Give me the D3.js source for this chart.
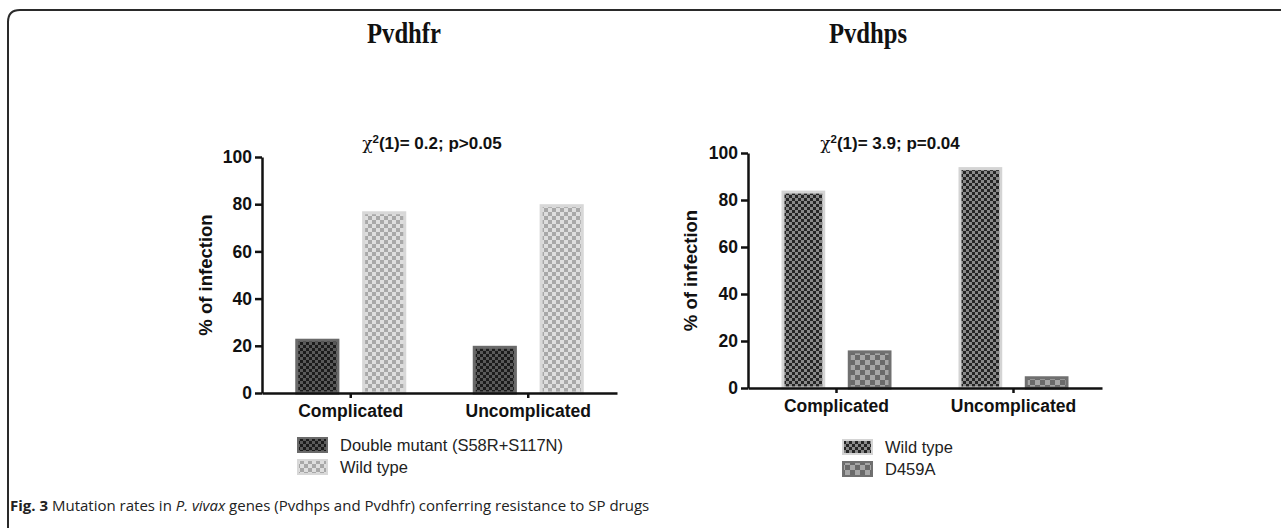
<!DOCTYPE html>
<html><head><meta charset="utf-8">
<script src="https://cdn.jsdelivr.net/npm/d3@7"></script>
<style>
html,body{margin:0;padding:0;background:#fff;}
svg{display:block;}
</style></head>
<body>
<svg id="chart" width="1281" height="528"></svg>
<script>
// ---- data ----
const categories = ["Complicated", "Uncomplicated"];
const yTicks = [0, 20, 40, 60, 80, 100];

const dhfrSeries = ["Double mutant (S58R+S117N)", "Wild type"];
const dhfrDouble = [23, 20];
const dhfrWild = [77, 80];

const dhpsSeries = ["Wild type", "D459A"];
const dhpsWild = [84, 94];
const dhpsD459A = [16, 5];

const panelTitles = ["Pvdhfr", "Pvdhps"];
const statLabels = [["0.2", "p>0.05"], ["3.9", "p=0.04"]];
const yLabel = "% of infection";

const svg = d3.select("#chart");
const defs = svg.append("defs");

function checker(id, cell, c1, c2) {
  const p = defs.append("pattern").attr("id", id).attr("patternUnits", "userSpaceOnUse")
    .attr("width", cell * 2).attr("height", cell * 2);
  p.append("rect").attr("width", cell * 2).attr("height", cell * 2).attr("fill", c2);
  p.append("rect").attr("width", cell).attr("height", cell).attr("fill", c1);
  p.append("rect").attr("x", cell).attr("y", cell).attr("width", cell).attr("height", cell).attr("fill", c1);
}
checker("pDark", 3, "#1c1c1c", "#5a5a5a");
checker("pLight", 4, "#a8a8a8", "#dedede");
checker("pWildR", 3, "#252525", "#8a8a8a");
checker("pD459", 5, "#6a6a6a", "#a6a6a6");

// frame
svg.append("path")
  .attr("d", "M8,528 L8,22 Q8,10 20,10 L1281,10")
  .attr("fill", "none").attr("stroke", "#2a2a2a").attr("stroke-width", 2);

const sans = "Liberation Sans, Arial, sans-serif";

function panel(cfg) {
  const g = svg.append("g");
  const x = d3.scaleBand().domain(categories).range([cfg.x0, cfg.x1]).paddingInner(0).paddingOuter(0);
  const y = d3.scaleLinear().domain([0, 100]).range([cfg.yb, cfg.yt]);
  const inner = d3.scaleBand().domain(cfg.series).range([-cfg.gw / 2, cfg.gw / 2]).paddingInner(0.34).paddingOuter(0);

  // title
  g.append("text").attr("x", cfg.tx).attr("y", 43).attr("text-anchor", "middle")
    .attr("font-family", "Liberation Serif, Times New Roman, serif").attr("font-weight", "bold")
    .attr("font-size", 29).attr("transform", `translate(${cfg.tx},0) scale(0.85,1) translate(${-cfg.tx},0)`)
    .attr("fill", "#111").text(cfg.title);

  // stat label
  const st = g.append("text").attr("x", cfg.sx).attr("y", cfg.sy).attr("text-anchor", "middle")
    .attr("font-family", sans).attr("font-weight", "bold").attr("font-size", 17).attr("fill", "#111");
  st.append("tspan").attr("font-family", "DejaVu Serif, serif").attr("font-weight", "normal").text("χ");
  st.append("tspan").attr("font-size", 11.5).attr("dy", -6).text("2");
  st.append("tspan").attr("dy", 6).text(`(1)= ${cfg.stat[0]}; ${cfg.stat[1]}`);

  // bars
  cfg.series.forEach((s, si) => {
    const vals = cfg.values[si];
    g.selectAll(null).data(categories).enter().append("rect")
      .attr("x", c => x(c) + x.bandwidth() / 2 + inner(s) + 1.5)
      .attr("y", (c, i) => y(vals[i]) + 1.5)
      .attr("width", inner.bandwidth() - 3)
      .attr("height", (c, i) => Math.max(0, y(0) - y(vals[i]) - 1.5))
      .attr("fill", `url(#${cfg.fills[si]})`)
      .attr("stroke", cfg.strokes[si]).attr("stroke-width", 3);
  });

  // y axis
  const ya = g.append("g").attr("transform", `translate(${cfg.x0},0)`)
    .call(d3.axisLeft(y).tickValues(yTicks).tickSize(7).tickSizeOuter(0));
  ya.select(".domain").attr("stroke", "#111").attr("stroke-width", 2.5);
  ya.selectAll(".tick line").attr("stroke", "#111").attr("stroke-width", 2.5);
  ya.selectAll(".tick text").attr("font-family", sans).attr("font-weight", "bold")
    .attr("font-size", 17.5).attr("fill", "#111").attr("x", -10);

  // x axis
  const xa = g.append("g").attr("transform", `translate(0,${cfg.yb})`)
    .call(d3.axisBottom(x).tickSize(5).tickSizeOuter(0).tickPadding(7));
  xa.select(".domain").attr("stroke", "#111").attr("stroke-width", 2.5);
  xa.selectAll(".tick line").attr("stroke", "#111").attr("stroke-width", 2.5);
  xa.selectAll(".tick text").attr("font-family", sans).attr("font-weight", "bold")
    .attr("font-size", 17.5).attr("fill", "#111");

  // y label
  g.append("text").attr("transform", `translate(${cfg.ylx},${(cfg.yt + cfg.yb) / 2}) rotate(-90)`)
    .attr("text-anchor", "middle").attr("font-family", sans).attr("font-weight", "bold")
    .attr("font-size", 18.5).attr("fill", "#111").text(yLabel);

  // legend
  cfg.series.forEach((s, si) => {
    const ly = cfg.ly + si * 22;
    g.append("rect").attr("x", cfg.lx).attr("y", ly - 7).attr("width", 29).attr("height", 14)
      .attr("fill", `url(#${cfg.fills[si]})`).attr("stroke", cfg.strokes[si]).attr("stroke-width", 2);
    g.append("text").attr("x", cfg.lx + 42).attr("y", ly + 6).attr("font-family", sans)
      .attr("font-size", 16.5).attr("fill", "#222").text(s);
  });
}

panel({
  title: panelTitles[0], tx: 404, stat: statLabels[0], sx: 432, sy: 149,
  x0: 262, x1: 617, yb: 393, yt: 157, gw: 111, ylx: 212,
  series: dhfrSeries, values: [dhfrDouble, dhfrWild],
  fills: ["pDark", "pLight"], strokes: ["#6a6a6a", "#d8d8d8"],
  lx: 298, ly: 445
});
panel({
  title: panelTitles[1], tx: 868, stat: statLabels[1], sx: 890, sy: 149,
  x0: 748, x1: 1102, yb: 388, yt: 153, gw: 110, ylx: 697,
  series: dhpsSeries, values: [dhpsWild, dhpsD459A],
  fills: ["pWildR", "pD459"], strokes: ["#d4d4d4", "#707070"],
  lx: 843, ly: 447
});

// caption
const cap = svg.append("text").attr("x", 10).attr("y", 511)
  .attr("font-family", "Open Sans, Noto Sans, sans-serif").attr("font-size", 15).attr("fill", "#222");
cap.append("tspan").attr("font-weight", "bold").text("Fig. 3");
cap.append("tspan").text(" Mutation rates in ");
cap.append("tspan").attr("font-style", "italic").text("P. vivax");
cap.append("tspan").text(" genes (Pvdhps and Pvdhfr) conferring resistance to SP drugs");
</script>
</body></html>
